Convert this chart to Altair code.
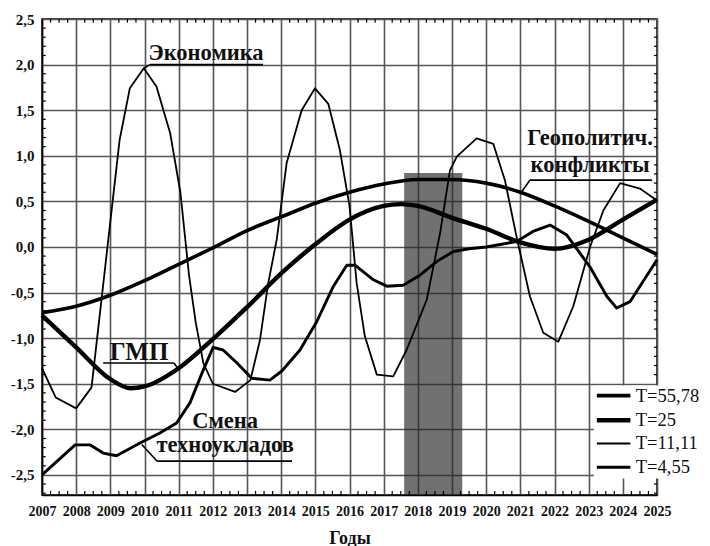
import altair as alt
import pandas as pd
import numpy as np

# ---------------- data ----------------
LEGEND_LABELS = ["T=55,78", "T=25", "T=11,11", "T=4,55"]

geo_years = [2007, 2008, 2009, 2010, 2011, 2012, 2013, 2014, 2015, 2016,
             2017, 2018, 2019, 2020, 2021, 2022, 2023, 2024, 2025]
geo_vals = [-0.72, -0.65, -0.53, -0.37, -0.19, -0.01, 0.18, 0.33, 0.48, 0.60,
            0.69, 0.74, 0.74, 0.70, 0.60, 0.45, 0.28, 0.10, -0.08]

gmp_years = [2007, 2008, 2009, 2009.6, 2010, 2011, 2012, 2013, 2014, 2015,
             2016, 2017, 2017.5, 2018, 2019, 2020, 2021, 2022, 2023, 2024, 2025]
gmp_vals = [-0.75, -1.10, -1.45, -1.55, -1.53, -1.33, -1.01, -0.66, -0.29, 0.03,
            0.30, 0.45, 0.47, 0.45, 0.32, 0.20, 0.05, -0.02, 0.08, 0.30, 0.52]

eco_years = [2007.0, 2007.4, 2008.0, 2008.45, 2009.27, 2009.57, 2009.98, 2010.35,
             2010.75, 2011.05, 2011.3, 2011.5, 2011.72, 2012.0, 2012.65, 2013.1,
             2013.38, 2013.62, 2013.87, 2014.16, 2014.6, 2014.99, 2015.38, 2015.72,
             2016.0, 2016.21, 2016.45, 2016.8, 2017.28, 2017.67, 2018.26, 2018.65,
             2018.94, 2019.14, 2019.72, 2020.21, 2020.55, 2020.89, 2021.28, 2021.67,
             2022.11, 2022.55, 2023.04, 2023.43, 2023.92, 2024.5, 2025.0]
eco_vals = [-1.33, -1.65, -1.77, -1.54, 1.17, 1.74, 1.96, 1.76,
            1.25, 0.60, -0.30, -0.83, -1.27, -1.50, -1.59, -1.46,
            -1.02, -0.40, 0.08, 0.92, 1.50, 1.74, 1.57, 1.06,
            0.45, -0.40, -0.98, -1.40, -1.42, -1.13, -0.58, 0.15,
            0.84, 0.99, 1.19, 1.13, 0.73, 0.11, -0.54, -0.94,
            -1.04, -0.65, 0.00, 0.40, 0.70, 0.64, 0.51]

tech_years = [2007.0, 2007.97, 2008.4, 2008.79, 2009.18, 2009.87, 2010.45, 2010.94,
              2011.33, 2011.72, 2012.01, 2012.3, 2012.7, 2013.14, 2013.67, 2014.02,
              2014.55, 2015.04, 2015.53, 2015.92, 2016.16, 2016.7, 2017.09, 2017.57,
              2018.06, 2018.55, 2019.04, 2019.5, 2020.0, 2020.89, 2021.37, 2021.87,
              2022.36, 2023.04, 2023.53, 2023.82, 2024.21, 2025.0]
tech_vals = [-2.50, -2.17, -2.17, -2.26, -2.29, -2.15, -2.04, -1.93,
             -1.71, -1.35, -1.10, -1.13, -1.27, -1.44, -1.46, -1.36,
             -1.13, -0.82, -0.43, -0.20, -0.20, -0.36, -0.43, -0.42,
             -0.31, -0.16, -0.05, -0.02, 0.00, 0.06, 0.17, 0.24,
             0.13, -0.22, -0.54, -0.67, -0.60, -0.14]

band_start, band_end, band_top = 2017.6, 2019.3, 0.81

x_ticks = list(range(2007, 2026))
y_ticks = [-2.5, -2.0, -1.5, -1.0, -0.5, 0.0, 0.5, 1.0, 1.5, 2.0, 2.5]

# ---------------- styles ----------------
FONT = "Liberation Serif"
X_MIN, X_MAX = 2007, 2025
Y_MIN, Y_MAX = -2.72, 2.5
WIDTHS = {"T=55,78": 3.6, "T=25": 4.4, "T=11,11": 1.8, "T=4,55": 2.9}

xs = alt.Scale(domain=[X_MIN, X_MAX], nice=False, zero=False)
ys = alt.Scale(domain=[Y_MIN, Y_MAX], nice=False, zero=False)

xaxis = alt.Axis(values=x_ticks, format="d", grid=True, gridColor="#555", gridWidth=1.6,
                 ticks=False, domainColor="black", domainWidth=1.5, labelOverlap=False,
                 labelSeparation=0, labelFlush=False,
                 labelFont=FONT, labelFontSize=14, labelFontWeight="bold", labelColor="#111",
                 labelPadding=9, title="Годы", titleFont=FONT, titleFontSize=18,
                 titleFontWeight="bold", titleColor="#111", titlePadding=11)
yaxis = alt.Axis(values=y_ticks, grid=True, gridColor="#555", gridWidth=1.6,
                 ticks=False, domainColor="black", domainWidth=1.5, labelOverlap=False,
                 labelExpr="replace(replace(format(datum.value, '.1f'), '.', ','), '\u2212', '-')",
                 labelFont=FONT, labelFontSize=15, labelFontWeight="bold", labelColor="#111",
                 labelPadding=8, title=None)


def XQ(field):
    return alt.X(field, type="quantitative", scale=xs, axis=xaxis)


def YQ(field):
    return alt.Y(field, type="quantitative", scale=ys, axis=yaxis)


band = alt.Chart(pd.DataFrame({"x": [band_start], "x2": [band_end],
                               "y": [Y_MIN], "y2": [band_top]})).mark_rect(
    color="#282828", opacity=0.66).encode(x=XQ("x"), x2="x2", y=YQ("y"), y2="y2")

# minor ticks inside the frame
qx = [v for v in np.arange(X_MIN, X_MAX + 0.001, 0.25) if abs(v - round(v)) > 1e-6]
qy = [round(v, 2) for v in np.arange(-2.7, 2.5 + 0.001, 0.1) if abs(v * 2 - round(v * 2)) > 1e-6]
ticks_df = pd.concat([
    pd.DataFrame({"x": qx, "x2": qx, "y": Y_MIN, "y2": Y_MIN + 0.045}),
    pd.DataFrame({"x": qx, "x2": qx, "y": Y_MAX, "y2": Y_MAX - 0.04}),
    pd.DataFrame({"x": X_MIN, "x2": X_MIN + 0.11, "y": qy, "y2": qy}),
    pd.DataFrame({"x": X_MAX, "x2": X_MAX - 0.09, "y": qy, "y2": qy}),
])
minor = alt.Chart(ticks_df).mark_rule(color="black", strokeWidth=1.2).encode(
    x=XQ("x"), x2="x2", y=YQ("y"), y2="y2")


def curve(years, vals, label, interp):
    df = pd.DataFrame({"x": years, "y": vals})
    return alt.Chart(df).mark_line(color="black", interpolate=interp,
                                   strokeWidth=WIDTHS[label], strokeJoin="round").encode(
        x=XQ("x"), y=YQ("y"))


lines = [
    curve(geo_years, geo_vals, "T=55,78", "monotone"),
    curve(gmp_years, gmp_vals, "T=25", "monotone"),
    curve(eco_years, eco_vals, "T=11,11", "linear"),
    curve(tech_years, tech_vals, "T=4,55", "linear"),
]

# annotations
ann = pd.DataFrame({
    "text": ["Экономика", "Геополитич.", "конфликты", "ГМП", "Смена", "техноукладов"],
    "x": [2011.80, 2023.04, 2023.04, 2009.84, 2012.36, 2012.36],
    "y": [2.05, 1.12, 0.82, -1.24, -1.98, -2.25],
    "fs": [22.5, 22.5, 22.5, 25, 22.5, 22.5],
})
ann_text = alt.Chart(ann).mark_text(font=FONT, fontWeight="bold", color="#111",
                                    align="center", baseline="alphabetic").encode(
    x=XQ("x"), y=YQ("y"), text="text:N",
    size=alt.Size("fs:Q", scale=None, legend=None))

lead = pd.DataFrame({
    "x": [2010.16, 2009.98, 2021.28, 2021.28, 2008.79, 2010.86, 2010.37, 2010.37],
    "x2": [2013.47, 2010.16, 2024.85, 2021.04, 2010.86, 2010.99, 2014.32, 2009.92],
    "y": [2.0, 1.96, 0.733, 0.733, -1.272, -1.272, -2.349, -2.349],
    "y2": [2.0, 2.0, 0.733, 0.605, -1.272, -1.335, -2.349, -2.166],
})
leaders = alt.Chart(lead).mark_rule(color="black", strokeWidth=1.6).encode(
    x=XQ("x"), x2="x2", y=YQ("y"), y2="y2")

# legend (drawn box)
leg_y = [-1.63, -1.90, -2.155, -2.415]
leg_df = pd.DataFrame({"series": LEGEND_LABELS, "y": leg_y,
                       "w": [WIDTHS[k] for k in LEGEND_LABELS],
                       "x": 2023.24, "x2": 2024.22, "xt": 2024.38})
leg_box = alt.Chart(pd.DataFrame({"x": [2023.15], "x2": [2026.4], "y": [-1.52], "y2": [-2.54]})).mark_rect(
    color="white").encode(x=XQ("x"), x2="x2", y=YQ("y"), y2="y2")
leg_lines = alt.Chart(leg_df).mark_rule(color="black").encode(
    x=XQ("x"), x2="x2", y=YQ("y"),
    strokeWidth=alt.StrokeWidth("w:Q", scale=None, legend=None))
leg_text = alt.Chart(leg_df).mark_text(font=FONT, fontSize=18.5, color="#111",
                                       align="left", baseline="middle").encode(
    x=XQ("xt"), y=YQ("y"), text="series:N")

chart = alt.layer(band, minor, *lines, leaders, ann_text, leg_box, leg_lines, leg_text).properties(
    width=615, height=476,
    padding={"left": 34, "top": 11, "right": 45, "bottom": 51},
    autosize=alt.AutoSizeParams(type="none"),
    background="white",
).configure_view(stroke="black", strokeWidth=1.5).configure_axis(labelOverlap=False)

chart.save("out.html", embed_options={"renderer": "svg", "actions": False})
